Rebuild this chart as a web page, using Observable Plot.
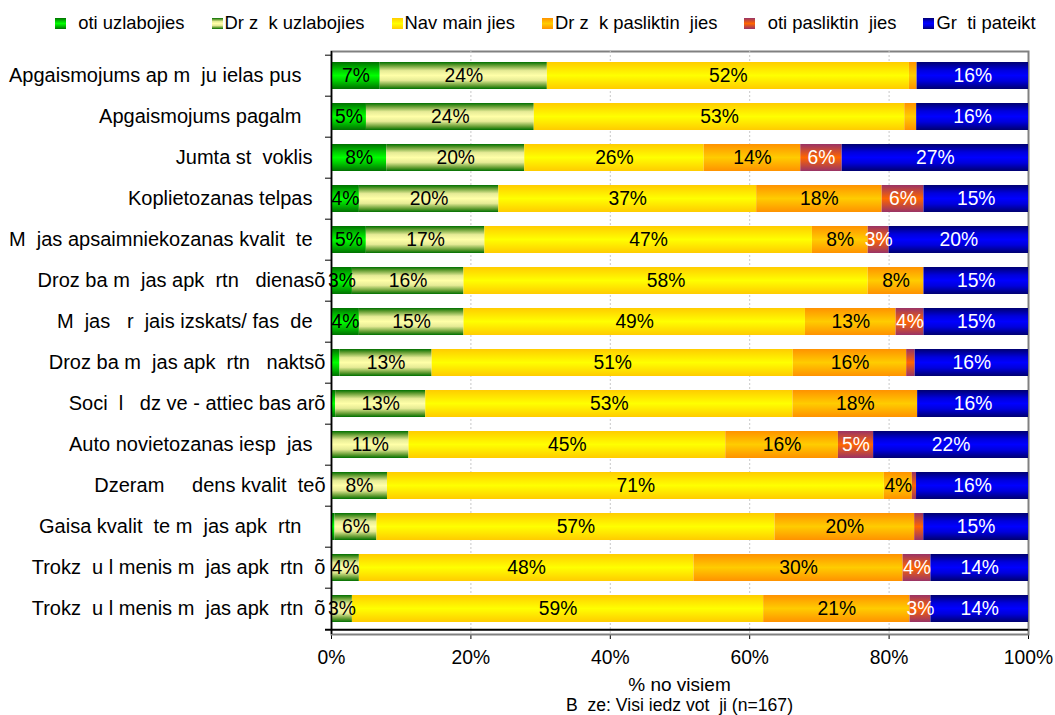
<!DOCTYPE html>
<html><head><meta charset="utf-8">
<script src="https://cdn.jsdelivr.net/npm/d3@7"></script>
<script src="https://cdn.jsdelivr.net/npm/@observablehq/plot@0.6"></script>
<style>
body{margin:0;background:#fff;font-family:"Liberation Sans",Arial,sans-serif;color:#000;}
#wrap{position:relative;width:1055px;height:715px;overflow:hidden;}
#legend{position:absolute;left:55px;top:12px;display:flex;gap:27px;font-size:18.4px;line-height:22px;white-space:pre;}
.item{display:flex;align-items:center;}
.sw{width:11px;height:11px;margin-right:2px;}
#chart{position:absolute;left:0;top:40px;}
#chart svg text{white-space:pre;}
#xtitle{position:absolute;left:331px;width:697px;top:674px;text-align:center;font-size:19px;line-height:22px;}
#caption{position:absolute;left:331px;width:697px;top:695px;text-align:center;font-size:17.6px;line-height:20px;white-space:pre;}
</style></head>
<body>
<div id="wrap">
  <div id="legend"></div>
  <div id="chart"></div>
  <div id="xtitle"></div>
  <div id="caption"></div>
</div>
<script>
// ---- data ----
const categories = [
  "Apgaismojums ap m  ju ielas pus  ",
  "Apgaismojums pagalm  ",
  "Jumta st  voklis",
  "Koplietozanas telpas",
  "M  jas apsaimniekozanas kvalit  te",
  "Droz ba m  jas apk  rtn   dienasõ",
  "M  jas   r  jais izskats/ fas  de",
  "Droz ba m  jas apk  rtn   naktsõ",
  "Soci  l   dz ve - attiec bas arõ",
  "Auto novietozanas iesp  jas",
  "Dzeram     dens kvalit  teõ",
  "Gaisa kvalit  te m  jas apk  rtn  ",
  "Trokz  u l menis m  jas apk  rtn  õ",
  "Trokz  u l menis m  jas apk  rtn  õ"
];
const seriesNames = ["  oti uzlabojies", "Dr z  k uzlabojies", "Nav main jies", "Dr z  k pasliktin  jies", "  oti pasliktin  jies", "Gr  ti pateikt"];
const lotiUzlabojies       = [7, 5, 8, 4, 5, 3, 4, 1.2, 0.6, 0, 0, 0.5, 0, 0];
const drizakUzlabojies     = [24, 24, 20, 20, 17, 16, 15, 13, 13, 11, 8, 6, 4, 3];
const navMainijies         = [52, 53, 26, 37, 47, 58, 49, 51, 53, 45, 71, 57, 48, 59];
const drizakPasliktinajies = [1.1, 1.7, 14, 18, 8, 8, 13, 16, 18, 16, 4, 20, 30, 21];
const lotiPasliktinajies   = [0, 0, 6, 6, 3, 0, 4, 1.2, 0, 5, 0.6, 1.3, 4, 3];
const grutiPateikt         = [16, 16, 27, 15, 20, 15, 15, 16, 16, 22, 16, 15, 14, 14];
const xTicks = [0, 0.2, 0.4, 0.6, 0.8, 1];
const gridTicks = [0.2, 0.4, 0.6, 0.8];
const xTitle = "% no visiem";
const caption = "B  ze: Visi iedz vot  ji (n=167)";

// gradient styling (stops from edge to center) per series
const gradStops = [
  [[0, "#007000"], [0.3, "#00cc00"], [0.5, "#00ff00"]],
  [[0, "#007000"], [0.12, "#5f9a30"], [0.32, "#e6eb96"], [0.5, "#ffffa8"]],
  [[0, "#ffcc00"], [0.5, "#ffff00"]],
  [[0, "#ff9200"], [0.5, "#ffcc00"]],
  [[0, "#993366"], [0.5, "#ff6600"]],
  [[0, "#000070"], [0.3, "#0000dd"], [0.5, "#0000ff"]]
];

const seriesValues = [lotiUzlabojies, drizakUzlabojies, navMainijies, drizakPasliktinajies, lotiPasliktinajies, grutiPateikt];
const data = [];
categories.forEach((c, r) => seriesNames.forEach((s, si) => data.push({row: r, series: s, si, value: seriesValues[si][r]})));

const n = categories.length;
const W = 1055, H = 624, mt = 11, mb = 30, ml = 331, mr = 27;
const step = (H - mt - mb) / n;
const tickLen = 6 / (W - ml - mr);
const labelTxt = d => d.value >= 2.5 ? Math.round(d.value) + "%" : null;
const stackOpts = {x: "value", y: "row", z: "series", order: seriesNames, offset: "normalize"};
const idx = d3.range(n);
const normalIdx = idx.filter(i => !categories[i].endsWith("õ"));
const oIdx = idx.filter(i => categories[i].endsWith("õ"));

const chart = Plot.plot({
  width: W, height: H, marginTop: mt, marginBottom: mb, marginLeft: ml, marginRight: mr,
  style: {fontFamily: '"Liberation Sans", Arial, sans-serif', fontSize: "19.3px", color: "black", background: "white", overflow: "visible"},
  x: {domain: [0, 1], ticks: xTicks, tickFormat: d3.format(".0%"), tickSize: 5, tickPadding: 11, label: null},
  y: {domain: idx, paddingInner: 0.33, paddingOuter: 0.165, axis: null},
  color: {domain: seriesNames, range: seriesNames.map((_, i) => `url(#seg${i})`)},
  marks: [
    Plot.frame({stroke: "#808080", strokeWidth: 2}),
    Plot.ruleX(gridTicks, {stroke: "#c8c8c8", strokeDasharray: "2,2"}),
    Plot.barX(data, Plot.stackX({...stackOpts, fill: "series"})),
    Plot.text(data, Plot.stackX({...stackOpts, text: d => d.si < 4 ? labelTxt(d) : null, fill: "black"})),
    Plot.text(data, Plot.stackX({...stackOpts, text: d => d.si >= 4 ? labelTxt(d) : null, fill: "white"})),
    Plot.ruleX([0], {stroke: "black", strokeWidth: 1.5}),
    Plot.ruleY(idx, {y: d => d, x1: -tickLen, x2: 0, dy: -step / 2, stroke: "black"}),
    Plot.ruleY([n - 1], {y: d => d, x1: -tickLen, x2: 1, dy: step / 2, stroke: "black", strokeWidth: 2}),
    Plot.text(normalIdx, {y: d => d, x: 0, text: i => categories[i], textAnchor: "end", dx: -19, fill: "black", fontSize: 20}),
    Plot.text(oIdx, {y: d => d, x: 0, text: i => categories[i], textAnchor: "end", dx: -6, fill: "black", fontSize: 20})
  ]
});

// gradients (vertical, symmetric about the center)
const NS = "http://www.w3.org/2000/svg";
const defs = document.createElementNS(NS, "defs");
const fullStops = st => [...st, ...st.slice(0, -1).reverse().map(([o, c]) => [1 - o, c])];
gradStops.forEach((st, i) => {
  const g = document.createElementNS(NS, "linearGradient");
  g.setAttribute("id", `seg${i}`);
  g.setAttribute("x1", "0"); g.setAttribute("y1", "0"); g.setAttribute("x2", "0"); g.setAttribute("y2", "1");
  fullStops(st).forEach(([o, c]) => {
    const s = document.createElementNS(NS, "stop");
    s.setAttribute("offset", o); s.setAttribute("stop-color", c);
    g.appendChild(s);
  });
  defs.appendChild(g);
});
chart.insertBefore(defs, chart.firstChild);
document.getElementById("chart").appendChild(chart);

// legend
const leg = document.getElementById("legend");
seriesNames.forEach((s, i) => {
  const it = document.createElement("div"); it.className = "item";
  const sw = document.createElement("div"); sw.className = "sw";
  const css = fullStops(gradStops[i]).map(([o, c]) => `${c} ${(o * 100).toFixed(0)}%`).join(", ");
  sw.style.background = `linear-gradient(to bottom, ${css})`;
  const t = document.createElement("span"); t.textContent = s;
  it.appendChild(sw); it.appendChild(t); leg.appendChild(it);
});
document.getElementById("xtitle").textContent = xTitle;
document.getElementById("caption").textContent = caption;
</script>
</body></html>
